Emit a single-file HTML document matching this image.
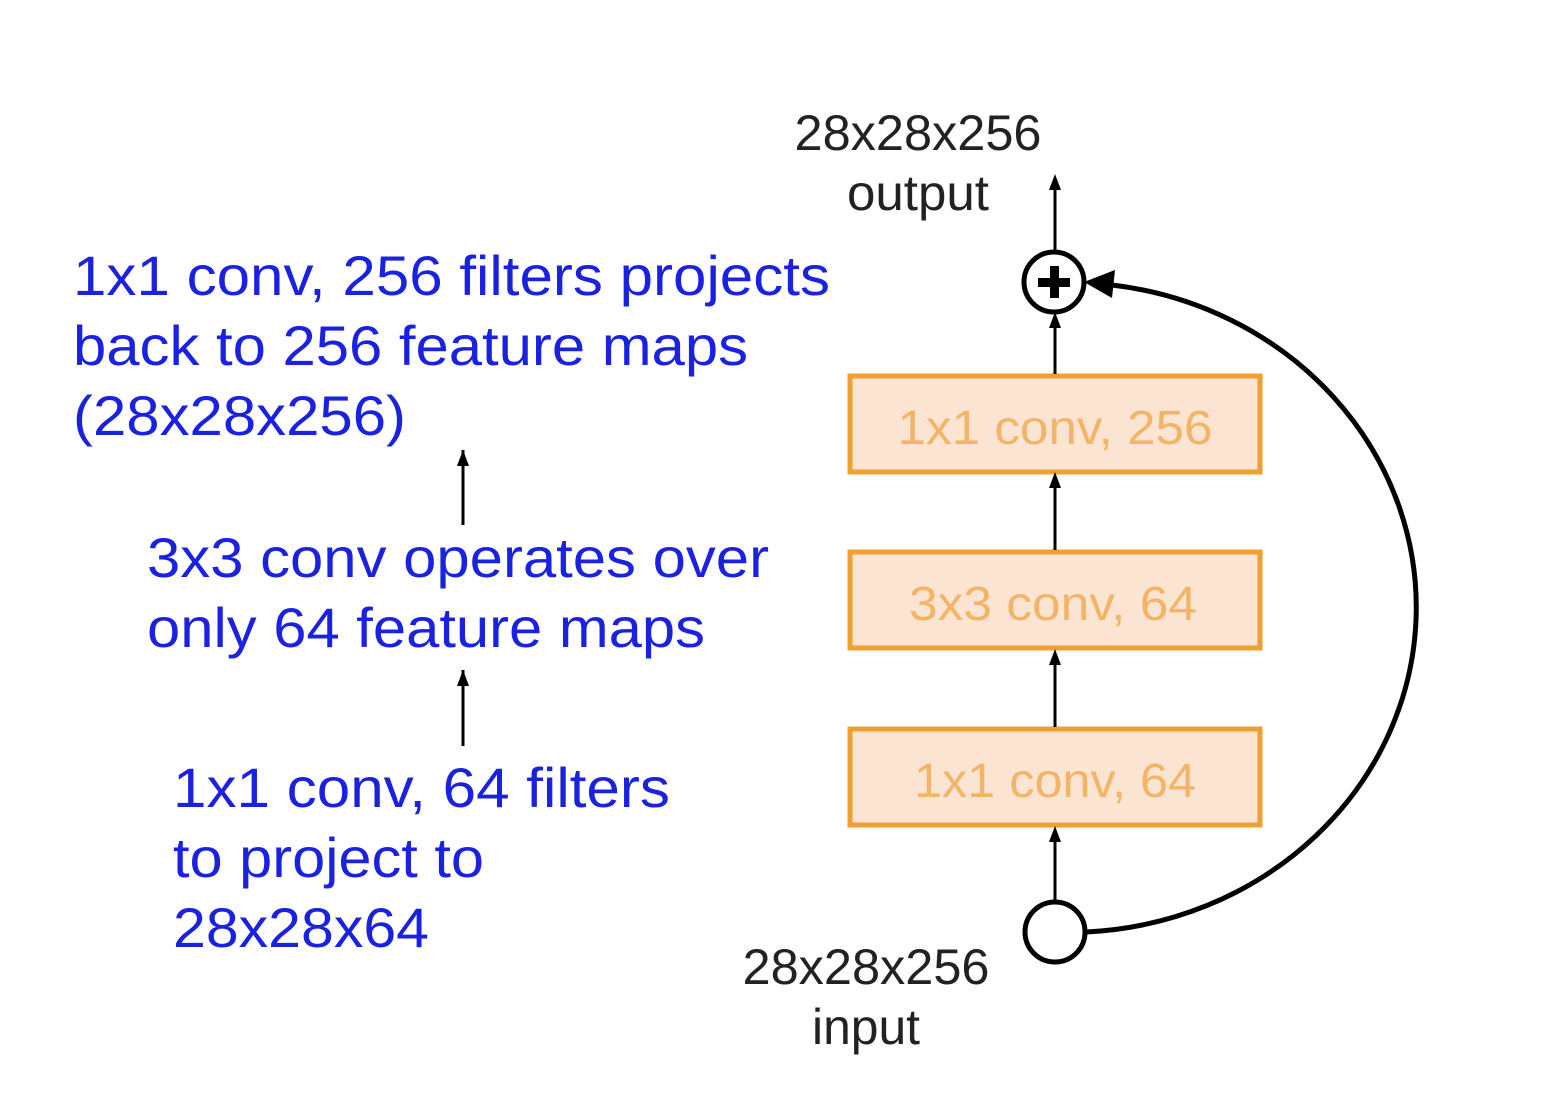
<!DOCTYPE html>
<html><head><meta charset="utf-8"><style>
html,body{margin:0;padding:0;background:#fff;}
svg{display:block;}
</style></head><body>
<svg width="1542" height="1120" viewBox="0 0 1542 1120" xmlns="http://www.w3.org/2000/svg">
<g font-family="Liberation Sans, sans-serif" fill="#1a22e0" font-size="56">
<text x="73" y="295" textLength="757" lengthAdjust="spacingAndGlyphs">1x1 conv, 256 filters projects</text>
<text x="73" y="365" textLength="675" lengthAdjust="spacingAndGlyphs">back to 256 feature maps</text>
<text x="73" y="435" textLength="333" lengthAdjust="spacingAndGlyphs">(28x28x256)</text>
<text x="147" y="577" textLength="622" lengthAdjust="spacingAndGlyphs">3x3 conv operates over</text>
<text x="147" y="647" textLength="558" lengthAdjust="spacingAndGlyphs">only 64 feature maps</text>
<text x="173" y="807" textLength="497" lengthAdjust="spacingAndGlyphs">1x1 conv, 64 filters</text>
<text x="173" y="877" textLength="311" lengthAdjust="spacingAndGlyphs">to project to</text>
<text x="173" y="947" textLength="256" lengthAdjust="spacingAndGlyphs">28x28x64</text>
</g>
<g stroke="#000" stroke-width="3" fill="none">
<line x1="463" y1="525" x2="463" y2="450"/>
<line x1="463" y1="746" x2="463" y2="670"/>
</g>
<path d="M457,466 L463,450 L469,466 z" fill="#000"/>
<path d="M457,686 L463,670 L469,686 z" fill="#000"/>
<g font-family="Liberation Sans, sans-serif" fill="#222" font-size="50" text-anchor="middle">
<text x="918" y="150" textLength="247" lengthAdjust="spacingAndGlyphs">28x28x256</text>
<text x="918" y="210" textLength="142" lengthAdjust="spacingAndGlyphs">output</text>
<text x="866" y="984" textLength="247" lengthAdjust="spacingAndGlyphs">28x28x256</text>
<text x="866" y="1044" textLength="108" lengthAdjust="spacingAndGlyphs">input</text>
</g>
<g fill="#fbe5d2" stroke="#f0a030" stroke-width="5">
<rect x="850" y="376" width="410" height="96"/>
<rect x="850" y="552" width="410" height="96"/>
<rect x="850" y="729" width="410" height="96"/>
</g>
<g font-family="Liberation Sans, sans-serif" fill="#f4b468" font-size="48" text-anchor="middle">
<text x="1055" y="444" textLength="315" lengthAdjust="spacingAndGlyphs">1x1 conv, 256</text>
<text x="1053" y="620" textLength="288" lengthAdjust="spacingAndGlyphs">3x3 conv, 64</text>
<text x="1055" y="797" textLength="282" lengthAdjust="spacingAndGlyphs">1x1 conv, 64</text>
</g>
<g stroke="#000" stroke-width="3" fill="none">
<line x1="1055" y1="250" x2="1055" y2="178"/>
<line x1="1055" y1="374" x2="1055" y2="316"/>
<line x1="1055" y1="550" x2="1055" y2="476"/>
<line x1="1055" y1="727" x2="1055" y2="653"/>
<line x1="1055" y1="902" x2="1055" y2="830"/>
</g>
<g fill="#000">
<path d="M1049,190 L1055,174 L1061,190 z"/>
<path d="M1049,328 L1055,312 L1061,328 z"/>
<path d="M1049,488 L1055,472 L1061,488 z"/>
<path d="M1049,665 L1055,649 L1061,665 z"/>
<path d="M1049,842 L1055,826 L1061,842 z"/>
</g>
<path d="M1086,932 A 348 325 0 0 0 1112,285" stroke="#000" stroke-width="5" fill="none"/>
<path d="M1084,282 L1115,270 L1112,298 z" fill="#000"/>
<circle cx="1054" cy="282" r="30" fill="#fff" stroke="#000" stroke-width="5"/>
<rect x="1038" y="278" width="32" height="9" fill="#000"/>
<rect x="1050" y="266" width="9" height="32" fill="#000"/>
<circle cx="1055" cy="932" r="30" fill="#fff" stroke="#000" stroke-width="5"/>
</svg>
</body></html>
